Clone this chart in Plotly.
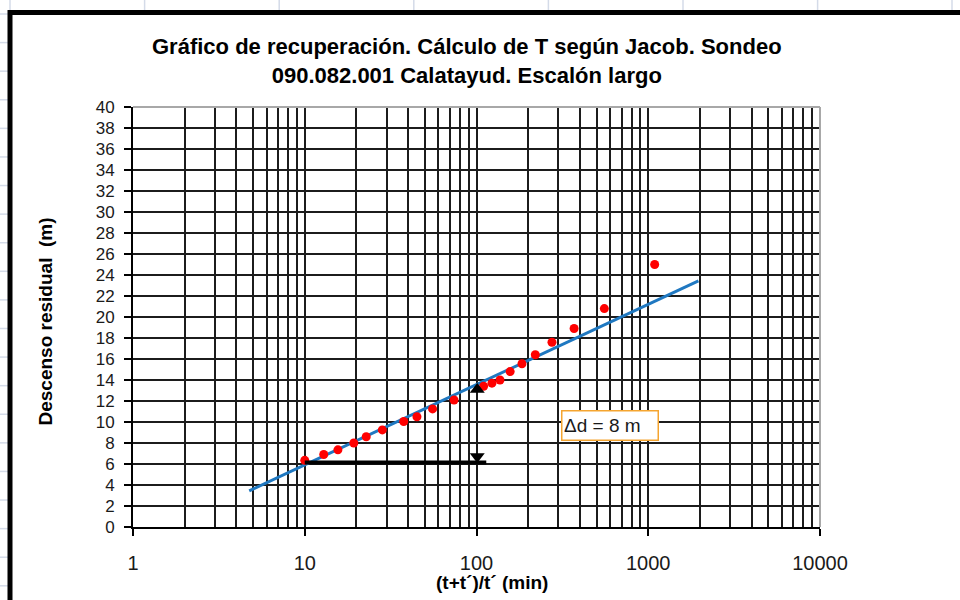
import plotly.graph_objects as go

# Recovery test, Jacob straight-line method
ratio_t = [10, 12.9, 15.6, 19.3, 22.8, 28.3, 37.7, 45, 55.5, 74,
           110, 123, 137, 157, 184, 220, 275, 370, 555, 1090]
residual_dd = [6.35, 6.9, 7.35, 8.0, 8.6, 9.25, 10.05, 10.5, 11.25, 12.1,
               13.4, 13.7, 14.0, 14.8, 15.55, 16.4, 17.6, 18.9, 20.8, 25.0]

# fitted Jacob line
fit_x = [4.75, 1960]
fit_y = [3.45, 23.45]

# one-log-cycle construction for delta d
ref_x = [10, 114]
ref_y = [6.15, 6.15]
arrow_up_x, arrow_up_y = [101], [13.1]
arrow_dn_x, arrow_dn_y = [101], [6.72]

x_major = [1, 10, 100, 1000, 10000]
x_major_text = ["1", "10", "100", "1000", "10000"]
x_minor = [m * d for d in (1, 10, 100, 1000) for m in range(2, 10)]
y_ticks = list(range(0, 41, 2))

FONT = "Liberation Sans, Arial, sans-serif"
INK = "#1a1a1a"

# plot area in pixels
L, R, T, B = 133, 820, 107, 527
W, H = 960, 600


def px(x):
    return (x - L) / (R - L)


def py(y):
    return (B - y) / (B - T)


fig = go.Figure()

fig.add_trace(go.Scatter(x=fit_x, y=fit_y, mode="lines",
                         line=dict(color="#1f78c1", width=3), hoverinfo="skip"))
fig.add_trace(go.Scatter(x=ratio_t, y=residual_dd, mode="markers",
                         marker=dict(color="#ff0000", size=9)))
fig.add_trace(go.Scatter(x=ref_x, y=ref_y, mode="lines",
                         line=dict(color="black", width=4)))
fig.add_trace(go.Scatter(x=arrow_up_x, y=arrow_up_y, mode="markers",
                         marker=dict(symbol="triangle-up", color="black", size=13)))
fig.add_trace(go.Scatter(x=arrow_dn_x, y=arrow_dn_y, mode="markers",
                         marker=dict(symbol="triangle-down", color="black", size=13)))

shapes = []
# light top/right border of the plot area
shapes.append(dict(type="line", xref="paper", yref="paper", x0=0, x1=1, y0=1, y1=1,
                   line=dict(color="#a8a8a8", width=2), layer="above"))
shapes.append(dict(type="line", xref="paper", yref="paper", x0=1, x1=1, y0=0, y1=1,
                   line=dict(color="#a8a8a8", width=2), layer="above"))
# worksheet cell lines behind the chart object
for cx in [10, 144.6, 279.2, 413.8, 548.4, 683, 817.6, 952]:
    shapes.append(dict(type="line", xref="paper", yref="paper",
                       x0=px(cx), x1=px(cx), y0=py(0), y1=py(10),
                       line=dict(color="#d4dbe8", width=1.5), layer="below"))
for k in range(21):
    ry = 14 + k * 28.59
    shapes.append(dict(type="line", xref="paper", yref="paper",
                       x0=px(0), x1=px(8), y0=py(ry), y1=py(ry),
                       line=dict(color="#d4dbe8", width=1.5), layer="below"))
# chart object frame
shapes.append(dict(type="line", xref="paper", yref="paper",
                   x0=px(10), x1=px(W + 10), y0=py(12.5), y1=py(12.5),
                   line=dict(color="black", width=5), layer="above"))
shapes.append(dict(type="line", xref="paper", yref="paper",
                   x0=px(10), x1=px(10), y0=py(10), y1=py(H + 10),
                   line=dict(color="black", width=5), layer="above"))

annotations = [
    dict(text="<b>Gráfico de recuperación. Cálculo de T según Jacob. Sondeo<br>"
              "090.082.001 Calatayud. Escalón largo</b>",
         xref="paper", yref="paper", x=px(467), y=py(61.5),
         xanchor="center", yanchor="middle", showarrow=False,
         font=dict(family=FONT, size=22, color="black")),
    dict(text="<b>(t+t´)/t´ (min)</b>", xref="paper", yref="paper",
         x=px(492), y=py(582), xanchor="center", yanchor="middle", showarrow=False,
         font=dict(family=FONT, size=19, color="black")),
    dict(text="<b>Descenso residual  (m)</b>", xref="paper", yref="paper",
         x=px(45), y=py(321.5), xanchor="center", yanchor="middle", showarrow=False,
         textangle=-90, font=dict(family=FONT, size=19, color="black")),
    dict(text="Δd = 8 m", xref="paper", yref="paper",
         x=px(609.5), y=py(425), xanchor="center", yanchor="middle", showarrow=False,
         width=92, height=25, align="left", borderpad=1.5,
         bordercolor="#f5a530", borderwidth=1.5, bgcolor="white",
         font=dict(family=FONT, size=19, color=INK)),
]

fig.update_layout(
    width=W, height=H,
    margin=dict(l=L, r=W - R, t=T, b=H - B),
    paper_bgcolor="white", plot_bgcolor="white",
    showlegend=False,
    shapes=shapes,
    annotations=annotations,
    xaxis=dict(
        type="log", range=[0, 4],
        tickmode="array", tickvals=x_major, ticktext=x_major_text,
        ticks="outside", ticklen=7, tickwidth=2, tickcolor="black",
        ticklabelstandoff=10,
        showgrid=True, gridcolor="#1c1c1c", gridwidth=2,
        minor=dict(tickmode="array", tickvals=x_minor, showgrid=True,
                   gridcolor="#1c1c1c", gridwidth=2, ticks=""),
        showline=True, linecolor="black", linewidth=2,
        zeroline=False,
        tickfont=dict(family=FONT, size=20, color=INK),
    ),
    yaxis=dict(
        range=[0, 40], tickmode="array", tickvals=y_ticks,
        ticks="outside", ticklen=7, tickwidth=2, tickcolor="black",
        ticklabelstandoff=6,
        showgrid=True, gridcolor="#1c1c1c", gridwidth=2,
        showline=True, linecolor="black", linewidth=2,
        zeroline=False,
        tickfont=dict(family=FONT, size=17, color=INK),
    ),
)

fig.write_html("out.html")
